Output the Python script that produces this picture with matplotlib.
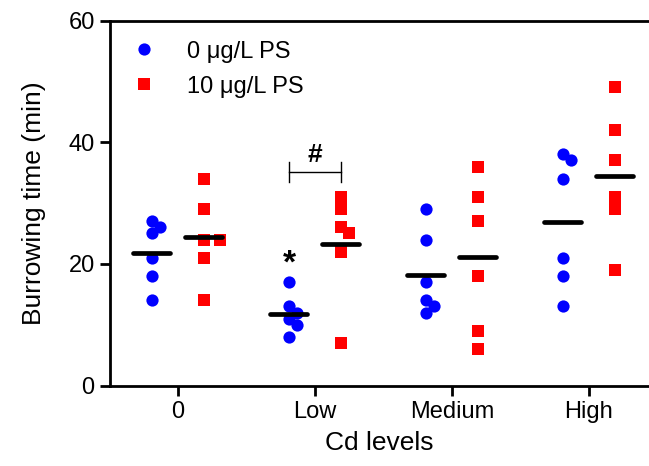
import numpy as np
import matplotlib.pyplot as plt

plt.rcParams['font.family'] = ['Liberation Sans', 'DejaVu Sans']

# data (burrowing time, min)
cd_levels = ['0', 'Low', 'Medium', 'High']
ps0 = [
    [27, 26, 25, 21, 18, 14],
    [17, 13, 12, 11, 10, 8],
    [29, 24, 17, 14, 13, 12],
    [38, 37, 34, 21, 18, 13],
]
ps10 = [
    [34, 29, 24, 24, 21, 14],
    [31, 29, 26, 25, 22, 7],
    [36, 31, 27, 18, 9, 6],
    [49, 42, 37, 31, 29, 19],
]
labels = ['0 \u03bcg/L PS', '10 \u03bcg/L PS']
colors = ['#0000ff', '#ff0000']
markers = ['o', 's']

W, H = 649, 466
fig = plt.figure(figsize=(W / 100, H / 100), dpi=100)
ax = fig.add_axes([110 / W, 80.5 / H, 539 / W, 365 / H])
ax.set_xlim(-0.496, -0.496 + 539 / 137)
ax.set_ylim(0, 60)

px_x = 137.0            # pixels per category
px_y = 365.0 / 60       # pixels per minute


def swarm(vals, d=10.0, step=8.0):
    # simple beeswarm in pixel units
    placed, offs = [], []
    for v in vals:
        for k in [0, 1, -1, 2, -2, 3, -3]:
            x = k * step
            if all((x - px) ** 2 + ((v - pv) * px_y) ** 2 >= d ** 2 for px, pv in placed):
                break
        placed.append((x, v))
        offs.append(x / px_x)
    return np.array(offs)


shift = 0.19
for j, (series, c, m, lab) in enumerate(zip([ps0, ps10], colors, markers, labels)):
    sgn = -1 if j == 0 else 1
    for i, vals in enumerate(series):
        xc = i + sgn * shift
        xs = xc + swarm(vals)
        ax.plot(xs, vals, linestyle='none', marker=m, color=c,
                markersize=8.8, markeredgewidth=0, label=lab if i == 0 else None,
                zorder=3)
        ax.plot([xc - 0.135, xc + 0.135], [np.mean(vals)] * 2, color='black',
                lw=3.4, solid_capstyle='round', zorder=4)

# significance marks
ax.text(1 - shift, max(ps0[1]) + 3.0, '*', ha='center', va='center',
        fontsize=24, fontweight='bold')
by = 35.1
ax.plot([1 - shift, 1 + shift], [by, by], color='black', lw=1.0)
ax.plot([1 - shift, 1 - shift], [by - 1.6, by + 1.6], color='black', lw=1.0)
ax.plot([1 + shift, 1 + shift], [by - 1.6, by + 1.6], color='black', lw=1.0)
ax.text(1, by + 0.9, '#', ha='center', va='bottom', fontsize=19, fontweight='bold')

ax.set_xticks(range(len(cd_levels)))
ax.set_xticklabels(cd_levels)
ax.set_yticks([0, 20, 40, 60])
ax.tick_params(axis='both', labelsize=17, width=2, length=7, direction='out')
ax.tick_params(axis='x', pad=4)
ax.tick_params(axis='y', pad=4)
for s in ['left', 'bottom', 'top', 'right']:
    ax.spines[s].set_linewidth(2)
ax.spines['right'].set_visible(False)

ax.set_xlabel('Cd levels', fontsize=19, labelpad=6)
ax.set_ylabel('Burrowing time (min)', fontsize=19, labelpad=16)

ax.legend(loc='upper left', bbox_to_anchor=(0.0, 1.0), frameon=False, fontsize=17,
          handletextpad=1.24, borderaxespad=0.45, labelspacing=0.55,
          handlelength=1.16)

fig.savefig('out.png', dpi=100)
